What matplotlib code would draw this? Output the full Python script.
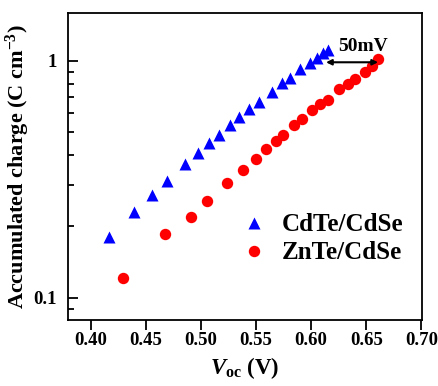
import matplotlib
matplotlib.use('Agg')
import matplotlib.pyplot as plt
import numpy as np

# Voc (V) and accumulated charge (C cm^-3)
cdte_voc = [0.4166, 0.4396, 0.4554, 0.4695, 0.4856, 0.4974, 0.5076, 0.5166, 0.5264, 0.5348,
            0.5439, 0.5527, 0.5642, 0.5733, 0.5809, 0.5899, 0.5986, 0.6054, 0.6105, 0.6156]
cdte_q = [0.181, 0.231, 0.271, 0.312, 0.365, 0.406, 0.448, 0.484, 0.534, 0.576,
          0.624, 0.671, 0.740, 0.803, 0.847, 0.920, 0.975, 1.023, 1.075, 1.11]

znte_voc = [0.4296, 0.4674, 0.4907, 0.5054, 0.5241, 0.5385, 0.5500, 0.5586, 0.5677, 0.5745, 0.5843,
            0.5915, 0.6010, 0.6081, 0.6156, 0.6256, 0.6332, 0.6398, 0.6489, 0.6550, 0.6610]
znte_q = [0.1215, 0.186, 0.220, 0.257, 0.306, 0.345, 0.386, 0.423, 0.457, 0.488, 0.536,
          0.569, 0.619, 0.655, 0.683, 0.757, 0.797, 0.837, 0.899, 0.950, 1.014]

xticks = [0.40, 0.45, 0.50, 0.55, 0.60, 0.65, 0.70]

plt.rcParams['font.family'] = 'Liberation Serif'
plt.rcParams['font.weight'] = 'bold'
plt.rcParams['mathtext.fontset'] = 'custom'
plt.rcParams['mathtext.rm'] = 'Liberation Serif:bold'
plt.rcParams['mathtext.it'] = 'Liberation Serif:italic:bold'
plt.rcParams['mathtext.bf'] = 'Liberation Serif:bold'

fig = plt.figure(figsize=(4.39, 3.86), dpi=100)
ax = fig.add_axes([0.1556, 0.171, 0.805, 0.796])

ax.plot(cdte_voc, cdte_q, '^', color='#0000ff', ms=9, mec='none', label='CdTe/CdSe')
ax.plot(znte_voc, znte_q, 'o', color='#ff0000', ms=8.2, mec='none', label='ZnTe/CdSe')

ax.set_yscale('log')
ax.set_xlim(0.3797, 0.7003)
ax.set_ylim(0.0805, 1.594)
ax.set_xticks(xticks)
ax.set_xticklabels(['%.2f' % v for v in xticks])
ax.set_yticks([0.1, 1])
ax.set_yticklabels(['0.1', '1'])

for s in ax.spines.values():
    s.set_linewidth(1.3)
ax.tick_params(axis='x', which='major', direction='out', length=7, width=1.3, labelsize=13.5, pad=2)
ax.tick_params(axis='y', which='major', direction='in', length=7, width=1.3, labelsize=13.5, pad=8)
ax.tick_params(axis='y', which='minor', direction='in', length=4.3, width=1.3)
ax.tick_params(axis='y', which='minor', labelleft=False)

ax.set_xlabel(r'$\mathit{V}_{\mathrm{oc}}$ (V)', fontsize=16.5, fontweight='bold', labelpad=4)
ax.set_ylabel(r'Accumulated charge (C cm$^{-3}$)', fontsize=16, fontweight='bold', labelpad=1)

# 50 mV shift between the two curves
ax.annotate('', xy=(0.6135, 0.985), xytext=(0.6607, 0.985),
            arrowprops=dict(arrowstyle='<|-|>', color='black', lw=1.5, mutation_scale=8,
                            shrinkA=0, shrinkB=0))
ax.text(0.647, 1.146, '50mV', ha='center', va='center', fontsize=14, fontweight='bold')

ax.legend(loc='center left', bbox_to_anchor=(0.49, 0.264), frameon=False,
          fontsize=18, handlelength=1, handletextpad=0.6, borderpad=0,
          borderaxespad=0, labelspacing=0.2)

plt.savefig('out.png', dpi=100)
